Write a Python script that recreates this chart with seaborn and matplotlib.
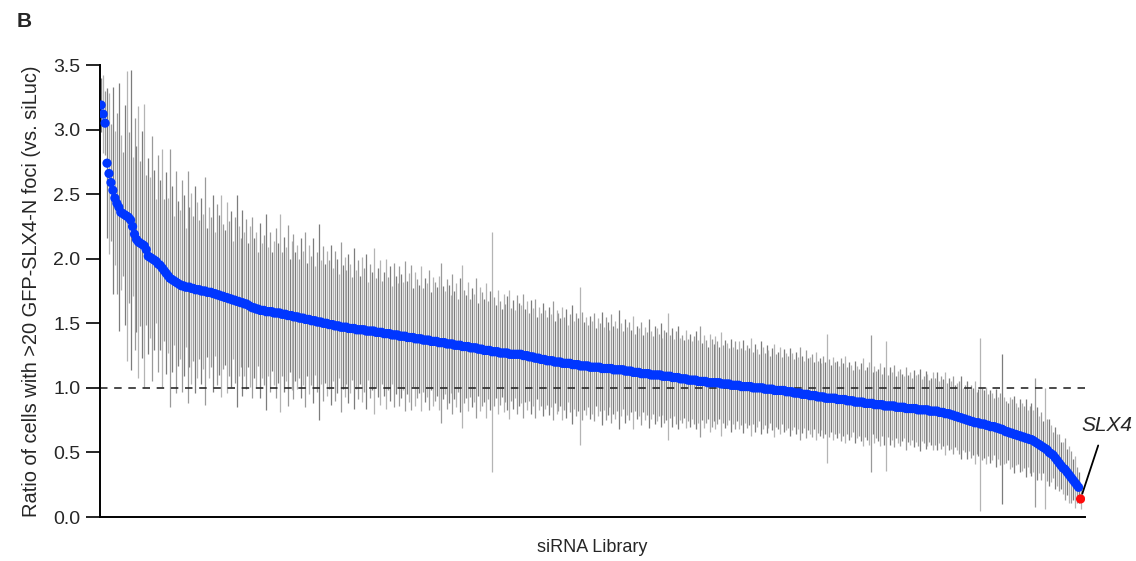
import matplotlib
matplotlib.use("Agg")
import matplotlib.pyplot as plt
import numpy as np
import pandas as pd
import seaborn as sns

# sorted screen ratios (x100), one per siRNA
ratio_x100 = [
    319, 312, 305, 274, 266, 259, 253, 247, 243, 240, 236, 235, 234, 233, 232, 230, 225, 219, 215, 213, 212, 211, 210, 207, 202,
    201, 200, 199, 198, 196, 195, 193, 191, 189, 187, 185, 184, 183, 182, 181, 180, 179, 179, 178, 178, 178, 177, 177, 176, 176,
    176, 175, 175, 175, 174, 174, 174, 173, 173, 172, 172, 171, 171, 170, 170, 169, 169, 168, 168, 167, 167, 166, 166, 165, 165,
    164, 163, 162, 162, 161, 161, 160, 160, 160, 159, 159, 159, 159, 158, 158, 158, 158, 157, 157, 157, 156, 156, 156, 155, 155,
    155, 154, 154, 154, 153, 153, 153, 152, 152, 152, 151, 151, 151, 150, 150, 150, 149, 149, 149, 148, 148, 148, 147, 147, 147,
    147, 146, 146, 146, 146, 145, 145, 145, 145, 145, 144, 144, 144, 144, 144, 143, 143, 143, 143, 142, 142, 142, 142, 141, 141,
    141, 141, 140, 140, 140, 140, 139, 139, 139, 139, 138, 138, 138, 138, 137, 137, 137, 137, 136, 136, 136, 136, 135, 135, 135,
    135, 134, 134, 134, 134, 133, 133, 133, 133, 132, 132, 132, 132, 131, 131, 131, 131, 130, 130, 130, 129, 129, 129, 129, 128,
    128, 128, 128, 127, 127, 127, 127, 127, 126, 126, 126, 126, 126, 126, 126, 125, 125, 125, 124, 124, 124, 123, 123, 123, 122,
    122, 122, 121, 121, 121, 121, 120, 120, 120, 120, 119, 119, 119, 119, 119, 118, 118, 118, 118, 117, 117, 117, 117, 117, 116,
    116, 116, 116, 116, 116, 115, 115, 115, 115, 115, 115, 114, 114, 114, 114, 114, 114, 113, 113, 113, 113, 112, 112, 112, 112,
    111, 111, 111, 111, 111, 110, 110, 110, 110, 110, 110, 109, 109, 109, 109, 109, 108, 108, 108, 108, 107, 107, 107, 107, 106,
    106, 106, 106, 106, 105, 105, 105, 105, 105, 104, 104, 104, 104, 104, 104, 104, 103, 103, 103, 103, 103, 102, 102, 102, 102,
    102, 101, 101, 101, 101, 101, 101, 100, 100, 100, 100, 100, 100, 99, 99, 99, 99, 99, 98, 98, 98, 98, 98, 98, 97,
    97, 97, 97, 96, 96, 96, 96, 95, 95, 95, 95, 94, 94, 94, 94, 93, 93, 93, 93, 92, 92, 92, 92, 92, 92,
    91, 91, 91, 91, 91, 90, 90, 90, 90, 89, 89, 89, 89, 89, 88, 88, 88, 88, 88, 87, 87, 87, 87, 87, 86,
    86, 86, 86, 86, 86, 85, 85, 85, 85, 85, 84, 84, 84, 84, 84, 84, 83, 83, 83, 83, 83, 83, 82, 82, 82,
    82, 82, 81, 81, 81, 80, 80, 80, 79, 79, 78, 78, 77, 77, 76, 76, 75, 75, 74, 74, 73, 73, 73, 72, 72,
    72, 71, 71, 70, 70, 70, 69, 69, 68, 68, 67, 66, 66, 65, 65, 64, 64, 63, 63, 62, 62, 61, 61, 60, 60,
    59, 58, 57, 56, 55, 54, 53, 52, 50, 49, 48, 46, 44, 42, 40, 38, 37, 35, 33, 31, 29, 27, 25, 23, 14,
]

# half-length of the error bar (x100) for each siRNA
err_x100 = [
    21, 30, 25, 58, 62, 45, 80, 52, 70, 96, 60, 48, 85, 112, 66, 116, 54, 90, 72, 105, 64, 88, 110, 58, 76,
    62, 95, 70, 48, 84, 66, 92, 55, 78, 60, 100, 72, 50, 86, 64, 58, 82, 70, 46, 90, 62, 74, 56, 80, 68,
    54, 72, 60, 88, 50, 66, 58, 76, 48, 70, 62, 78, 56, 52, 74, 60, 68, 46, 64, 82, 58, 50, 72, 56, 66,
    48, 62, 70, 54, 60, 44, 68, 52, 58, 76, 50, 62, 46, 56, 66, 54, 77, 48, 60, 52, 70, 44, 58, 64, 50,
    56, 46, 62, 52, 68, 44, 58, 50, 64, 42, 54, 76, 48, 60, 46, 56, 50, 62, 44, 58, 52, 40, 66, 48, 54,
    44, 58, 50, 40, 62, 46, 54, 42, 56, 48, 60, 38, 52, 46, 64, 42, 50, 56, 40, 48, 58, 44, 52, 38, 56,
    46, 40, 54, 48, 42, 58, 44, 50, 56, 38, 52, 46, 42, 56, 40, 48, 44, 54, 38, 50, 46, 42, 52, 62, 44,
    40, 50, 46, 38, 54, 42, 48, 36, 52, 63, 44, 40, 50, 38, 46, 42, 54, 36, 48, 44, 40, 52, 38, 46, 93,
    42, 36, 48, 40, 34, 46, 38, 44, 50, 36, 42, 34, 46, 40, 38, 48, 36, 42, 34, 44, 38, 46, 32, 40, 36,
    44, 38, 34, 42, 36, 46, 32, 40, 38, 34, 44, 36, 42, 30, 38, 46, 34, 40, 36, 61, 42, 34, 38, 32, 40,
    36, 42, 30, 38, 34, 44, 32, 40, 36, 30, 42, 34, 38, 32, 46, 36, 30, 40, 34, 38, 32, 44, 30, 36, 34,
    40, 30, 36, 32, 42, 34, 30, 38, 36, 32, 40, 30, 36, 34, 49, 32, 38, 30, 36, 40, 32, 34, 30, 38, 32,
    36, 30, 34, 38, 32, 43, 30, 36, 32, 28, 38, 34, 30, 36, 32, 28, 40, 30, 34, 32, 28, 36, 30, 34, 28,
    34, 30, 36, 28, 32, 30, 38, 28, 34, 30, 26, 36, 32, 28, 34, 30, 26, 32, 36, 28, 30, 34, 26, 32, 30,
    28, 34, 30, 26, 32, 28, 36, 30, 26, 34, 28, 30, 32, 26, 34, 28, 30, 26, 32, 28, 50, 30, 26, 32, 28,
    30, 26, 32, 28, 34, 26, 30, 28, 24, 32, 28, 26, 30, 34, 26, 28, 32, 53, 24, 30, 26, 28, 32, 24, 30,
    50, 24, 30, 26, 32, 24, 28, 30, 26, 24, 32, 26, 28, 24, 30, 26, 28, 32, 24, 26, 30, 28, 24, 26, 30,
    26, 30, 24, 28, 26, 32, 24, 28, 26, 30, 24, 26, 28, 32, 24, 26, 30, 24, 28, 26, 32, 24, 26, 67, 28,
    26, 30, 24, 28, 26, 22, 30, 24, 28, 58, 26, 24, 22, 28, 26, 30, 24, 22, 28, 26, 24, 30, 22, 26, 28,
    24, 50, 28, 22, 26, 20, 47, 24, 26, 22, 18, 24, 20, 22, 18, 20, 24, 18, 22, 20, 16, 20, 14, 12, 8,
]

highlight = "SLX4"

data = pd.DataFrame({
    "rank": np.arange(len(ratio_x100)),
    "ratio": np.array(ratio_x100) / 100,
    "err": np.array(err_x100) / 100,
})
data["group"] = "library"
data.loc[data.index[-1], "group"] = highlight

sns.set_style("ticks")
plt.rcParams["font.family"] = ["Liberation Sans", "DejaVu Sans"]

fig = plt.figure(figsize=(11.36, 5.61), dpi=100)
ax = fig.add_axes([0.088, 0.0784, 0.867, 0.8057])

# error bars in a few greys so the forest does not look combed
for k, col in enumerate(["#7c7c7c", "#b4b4b4", "#9a9a9a"]):
    sub = data.iloc[k::3]
    ax.vlines(sub["rank"], sub["ratio"] - sub["err"], sub["ratio"] + sub["err"],
              color=col, lw=0.9, zorder=1)

ax.axhline(1.0, color="#2b2b2b", lw=1.2, ls=(0, (4.5, 4)), zorder=2)

sns.scatterplot(data=data, x="rank", y="ratio", hue="group",
                palette={"library": "#0036ff", highlight: "#ff0a0a"},
                s=44, linewidth=0, legend=False, zorder=3, ax=ax)

last = data.iloc[-1]
ax.annotate("", xy=(last["rank"], last["ratio"]), xytext=(12.7, 38.5),
            textcoords="offset points", annotation_clip=False,
            arrowprops=dict(arrowstyle="-", color="black", lw=1.3,
                            shrinkA=0, shrinkB=4))
ax.annotate(highlight, xy=(last["rank"], last["ratio"]), xytext=(19, 53),
            textcoords="offset points", ha="center", va="center",
            fontsize=15, style="italic", annotation_clip=False)

ax.set_xlim(-0.6, len(data) + 1.2)
ax.set_ylim(0, 3.5)
ax.set_xticks([])
ax.set_yticks(np.arange(0, 3.51, 0.5))
ax.set_yticklabels([f"{t:.1f}" for t in np.arange(0, 3.51, 0.5)])
ax.tick_params(axis="y", length=10, width=1.4, labelsize=14, pad=4)
ax.set_xlabel("siRNA Library", fontsize=13, labelpad=16)
ax.set_ylabel("Ratio of cells with >20 GFP-SLX4-N foci (vs. siLuc)",
              fontsize=14.4, labelpad=9)
sns.despine(ax=ax)
for side in ["left", "bottom"]:
    ax.spines[side].set_linewidth(1.4)
    ax.spines[side].set_color("black")

fig.text(0.015, 0.978, "B", fontsize=15, fontweight="bold", ha="left", va="top")

fig.savefig("out.png", dpi=100)
